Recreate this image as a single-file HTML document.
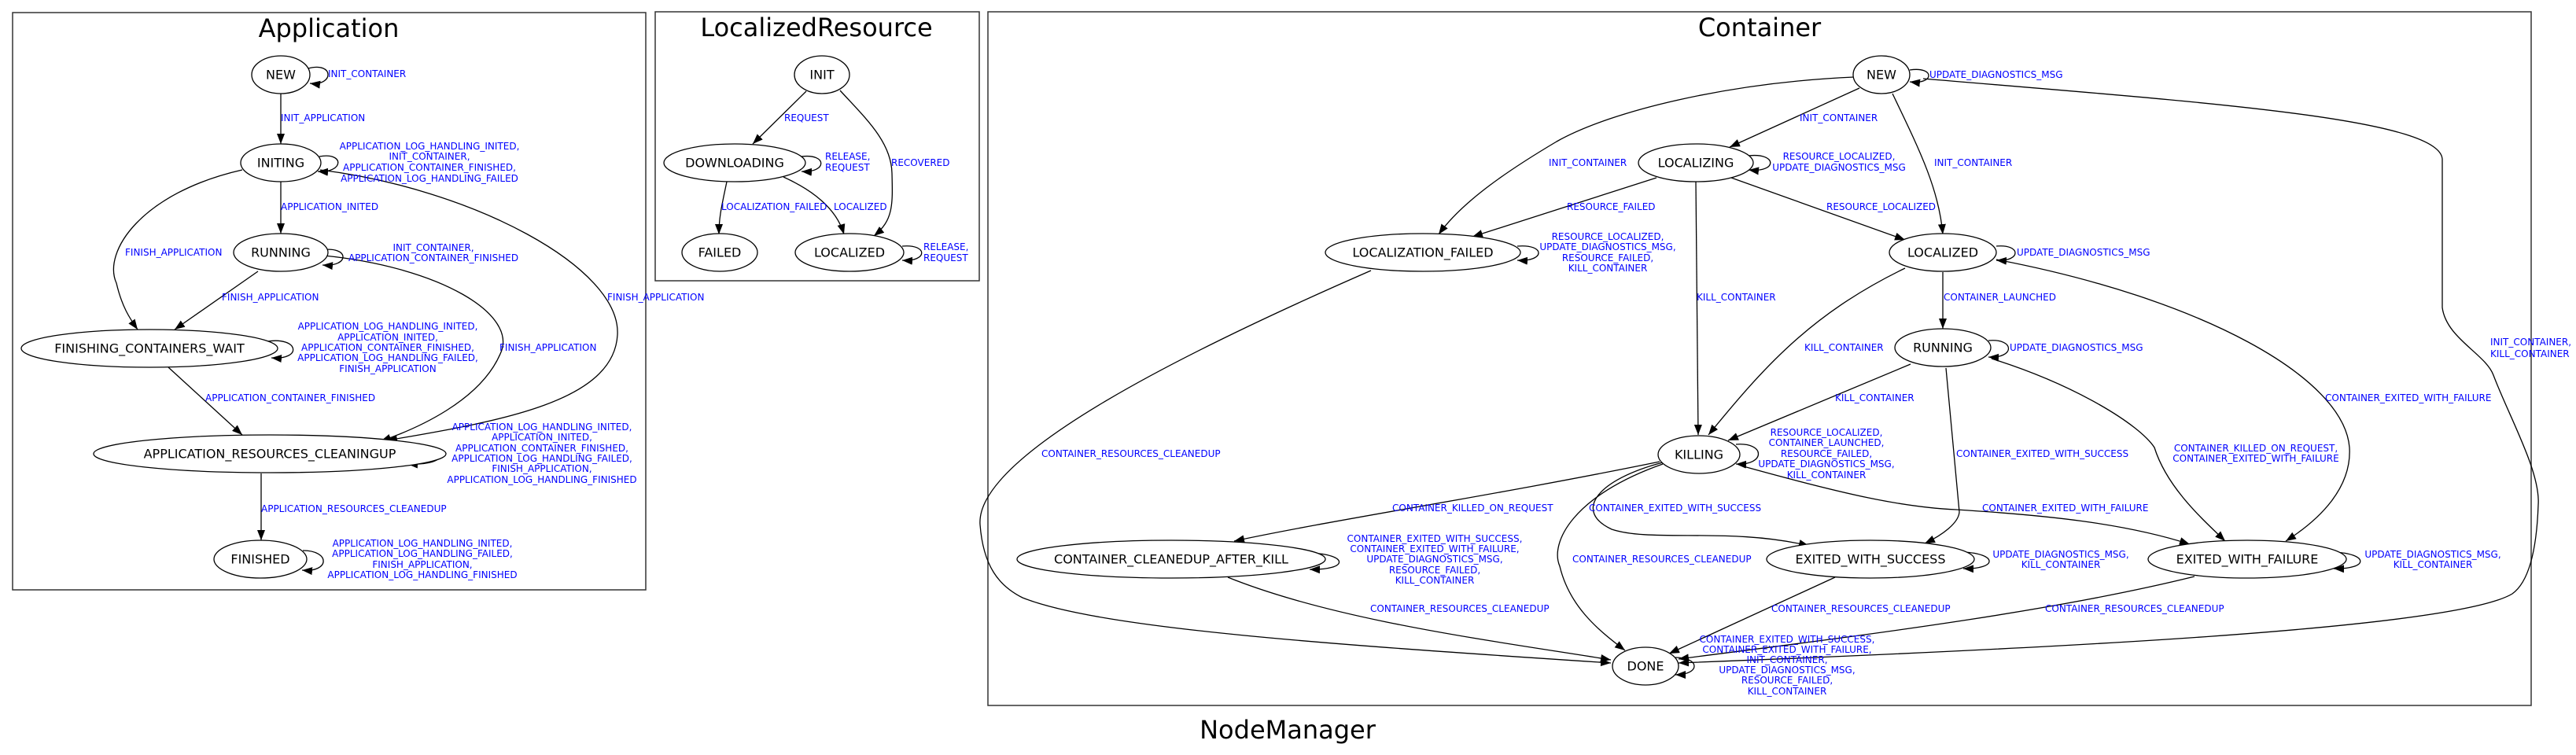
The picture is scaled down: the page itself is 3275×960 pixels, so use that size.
<!DOCTYPE html>
<html><head><meta charset="utf-8"><style>
html,body{margin:0;padding:0;background:#fff;}
svg{display:block;}
.n{font-family:"DejaVu Sans","Liberation Sans",sans-serif;font-size:16px;fill:#000;text-anchor:middle;dominant-baseline:central;}
.t{font-family:"DejaVu Sans","Liberation Sans",sans-serif;font-size:32px;fill:#000;text-anchor:middle;dominant-baseline:central;}
.l{font-family:"DejaVu Sans","Liberation Sans",sans-serif;font-size:12px;fill:#0000ff;dominant-baseline:central;}
.c{text-anchor:middle;}
ellipse{fill:#fff;stroke:#000;stroke-width:1.3;}
path.e{fill:none;stroke:#000;stroke-width:1.3;marker-end:url(#a);}
rect{fill:none;stroke:#333;stroke-width:1.5;}
</style></head><body>
<svg width="3275" height="960" viewBox="0 0 3275 960" xmlns="http://www.w3.org/2000/svg">
<defs><marker id="a" markerUnits="userSpaceOnUse" markerWidth="14" markerHeight="12" refX="13" refY="5" orient="auto"><path d="M0,0 L13,5 L0,10 z" fill="#000"/></marker></defs>

<!-- Application -->
<rect x="16" y="16" width="805" height="734"/>
<text class="t" x="418" y="36">Application</text>
<path class="e" d="M392,87 C425,78 425,110 394,106"/>
<path class="e" d="M357,119 L357,183"/>
<path class="e" d="M406,199 C438,193 438,220 404,218"/>
<path class="e" d="M357,231 L357,297"/>
<path class="e" d="M308,216 C180,245 130,320 148,360 C155,390 165,405 175,419"/>
<path class="e" d="M328,345 L222,419"/>
<path class="e" d="M412,325 C560,340 660,400 636,450 C610,510 530,545 484,561"/>
<path class="e" d="M407,216 C600,240 790,340 785,426 C780,510 640,535 492,560"/>
<path class="e" d="M408,318 C445,312 445,340 410,337"/>
<path class="e" d="M340,434 C380,428 385,458 345,455"/>
<path class="e" d="M214,467 L308,553"/>
<path class="e" d="M514,566 C570,568 575,592 518,590"/>
<path class="e" d="M332,602 L332,687"/>
<path class="e" d="M385,700 C420,700 420,728 384,725"/>
<ellipse cx="357" cy="95" rx="37" ry="24"/><text class="n" x="357" y="95">NEW</text>
<ellipse cx="357" cy="207" rx="51" ry="24"/><text class="n" x="357" y="207">INITING</text>
<ellipse cx="357" cy="321" rx="60" ry="24"/><text class="n" x="357" y="321">RUNNING</text>
<ellipse cx="190" cy="443" rx="163" ry="24"/><text class="n" x="190" y="443">FINISHING_CONTAINERS_WAIT</text>
<ellipse cx="343" cy="577" rx="224" ry="24"/><text class="n" x="343" y="577">APPLICATION_RESOURCES_CLEANINGUP</text>
<ellipse cx="331" cy="711" rx="59" ry="24"/><text class="n" x="331" y="711">FINISHED</text>
<text class="l" x="417" y="94">INIT_CONTAINER</text>
<text class="l" x="357" y="150">INIT_APPLICATION</text>
<text class="l c" x="546" y="186">APPLICATION_LOG_HANDLING_INITED,</text>
<text class="l c" x="546" y="199">INIT_CONTAINER,</text>
<text class="l c" x="546" y="213">APPLICATION_CONTAINER_FINISHED,</text>
<text class="l c" x="546" y="227">APPLICATION_LOG_HANDLING_FAILED</text>
<text class="l" x="357" y="263">APPLICATION_INITED</text>
<text class="l" x="159" y="321">FINISH_APPLICATION</text>
<text class="l c" x="551" y="315">INIT_CONTAINER,</text>
<text class="l c" x="551" y="328">APPLICATION_CONTAINER_FINISHED</text>
<text class="l" x="282" y="378">FINISH_APPLICATION</text>
<text class="l" x="635" y="442">FINISH_APPLICATION</text>
<text class="l" x="772" y="378">FINISH_APPLICATION</text>
<text class="l c" x="493" y="415">APPLICATION_LOG_HANDLING_INITED,</text>
<text class="l c" x="493" y="429">APPLICATION_INITED,</text>
<text class="l c" x="493" y="442">APPLICATION_CONTAINER_FINISHED,</text>
<text class="l c" x="493" y="455">APPLICATION_LOG_HANDLING_FAILED,</text>
<text class="l c" x="493" y="469">FINISH_APPLICATION</text>
<text class="l" x="261" y="506">APPLICATION_CONTAINER_FINISHED</text>
<text class="l c" x="689" y="543">APPLICATION_LOG_HANDLING_INITED,</text>
<text class="l c" x="689" y="556">APPLICATION_INITED,</text>
<text class="l c" x="689" y="570">APPLICATION_CONTAINER_FINISHED,</text>
<text class="l c" x="689" y="583">APPLICATION_LOG_HANDLING_FAILED,</text>
<text class="l c" x="689" y="596">FINISH_APPLICATION,</text>
<text class="l c" x="689" y="610">APPLICATION_LOG_HANDLING_FINISHED</text>
<text class="l" x="332" y="647">APPLICATION_RESOURCES_CLEANEDUP</text>
<text class="l c" x="537" y="691">APPLICATION_LOG_HANDLING_INITED,</text>
<text class="l c" x="537" y="704">APPLICATION_LOG_HANDLING_FAILED,</text>
<text class="l c" x="537" y="718">FINISH_APPLICATION,</text>
<text class="l c" x="537" y="731">APPLICATION_LOG_HANDLING_FINISHED</text>

<!-- LocalizedResource -->
<rect x="833" y="15" width="412" height="342"/>
<text class="t" x="1038" y="35">LocalizedResource</text>
<path class="e" d="M1025,116 L957,183"/>
<path class="e" d="M1068,115 C1100,150 1133,180 1134,220 C1135,260 1136,280 1111,300"/>
<path class="e" d="M1019,199 C1052,195 1052,220 1019,218"/>
<path class="e" d="M924,231 C918,260 914,275 914,298"/>
<path class="e" d="M996,225 C1040,245 1065,270 1073,298"/>
<path class="e" d="M1147,313 C1180,310 1180,333 1147,331"/>
<ellipse cx="1045" cy="95" rx="35" ry="24"/><text class="n" x="1045" y="95">INIT</text>
<ellipse cx="934" cy="207" rx="90" ry="24"/><text class="n" x="934" y="207">DOWNLOADING</text>
<ellipse cx="915" cy="321" rx="48" ry="24"/><text class="n" x="915" y="321">FAILED</text>
<ellipse cx="1080" cy="321" rx="69" ry="24"/><text class="n" x="1080" y="321">LOCALIZED</text>
<text class="l" x="997" y="150">REQUEST</text>
<text class="l" x="1133" y="207">RECOVERED</text>
<text class="l" x="1049" y="199">RELEASE,</text>
<text class="l" x="1049" y="213">REQUEST</text>
<text class="l" x="917" y="263">LOCALIZATION_FAILED</text>
<text class="l" x="1060" y="263">LOCALIZED</text>
<text class="l" x="1174" y="314">RELEASE,</text>
<text class="l" x="1174" y="328">REQUEST</text>

<!-- Container -->
<rect x="1256" y="15" width="1962" height="882"/>
<text class="t" x="2237" y="35">Container</text>
<text class="t" x="1637" y="928">NodeManager</text>
<path class="e" d="M2428,89 C2460,84 2460,108 2428,104"/>
<path class="e" d="M2364,112 L2199,187"/>
<path class="e" d="M2406,119 C2440,190 2465,240 2470,298"/>
<path class="e" d="M2357,98 C2200,105 2050,140 1979,180 C1920,215 1860,255 1829,298"/>
<path class="e" d="M2445,100 C2800,130 3100,150 3105,202 L3105,391 C3110,430 3160,450 3170,477 C3190,530 3230,600 3227,642 C3225,700 3215,740 3194,755 C3120,800 2600,825 2134,843"/>
<path class="e" d="M2223,198 C2260,194 2260,220 2223,216"/>
<path class="e" d="M2106,226 L1872,301"/>
<path class="e" d="M2201,226 L2422,305"/>
<path class="e" d="M2156,231 L2159,553"/>
<path class="e" d="M1929,313 C1965,310 1965,333 1929,331"/>
<path class="e" d="M1743,344 C1500,450 1240,580 1246,667 C1250,720 1270,745 1300,760 C1400,800 1700,820 2048,843"/>
<path class="e" d="M2538,313 C2570,310 2570,333 2538,331"/>
<path class="e" d="M2470,346 L2470,418"/>
<path class="e" d="M2422,341 C2300,400 2240,470 2172,553"/>
<path class="e" d="M2538,330 C2800,380 2980,480 2987,569 C2990,620 2950,660 2906,688"/>
<path class="e" d="M2528,433 C2562,430 2562,456 2528,454"/>
<path class="e" d="M2429,463 L2197,560"/>
<path class="e" d="M2474,468 L2491,651 C2490,665 2470,680 2447,691"/>
<path class="e" d="M2532,456 C2640,490 2720,540 2739,569 C2755,620 2800,660 2829,688"/>
<path class="e" d="M2207,565 C2245,562 2245,592 2207,590"/>
<path class="e" d="M2213,592 C2350,630 2420,645 2487,648 C2600,655 2700,665 2784,692"/>
<path class="e" d="M2110,587 C1900,630 1700,660 1569,688"/>
<path class="e" d="M2114,588 C2030,610 2000,650 2049,673 C2100,690 2200,670 2300,694"/>
<path class="e" d="M2114,590 C2000,630 1970,690 1983,720 C1995,770 2030,800 2066,827"/>
<path class="e" d="M1665,703 C1715,705 1715,725 1665,724"/>
<path class="e" d="M1561,734 C1700,790 1900,815 2048,839"/>
<path class="e" d="M2496,702 C2540,704 2540,724 2496,723"/>
<path class="e" d="M2333,734 L2122,831"/>
<path class="e" d="M2967,702 C3012,704 3012,724 2967,723"/>
<path class="e" d="M2790,733 C2600,780 2350,810 2134,838"/>
<path class="e" d="M2130,836 C2162,836 2162,858 2130,858"/>
<ellipse cx="2392" cy="95" rx="36" ry="24"/><text class="n" x="2392" y="95">NEW</text>
<ellipse cx="2156" cy="207" rx="73" ry="24"/><text class="n" x="2156" y="207">LOCALIZING</text>
<ellipse cx="1809" cy="321" rx="124" ry="24"/><text class="n" x="1809" y="321">LOCALIZATION_FAILED</text>
<ellipse cx="2470" cy="321" rx="68" ry="24"/><text class="n" x="2470" y="321">LOCALIZED</text>
<ellipse cx="2470" cy="442" rx="61" ry="24"/><text class="n" x="2470" y="442">RUNNING</text>
<ellipse cx="2160" cy="578" rx="52" ry="24"/><text class="n" x="2160" y="578">KILLING</text>
<ellipse cx="1489" cy="711" rx="196" ry="24"/><text class="n" x="1489" y="711">CONTAINER_CLEANEDUP_AFTER_KILL</text>
<ellipse cx="2378" cy="711" rx="132" ry="24"/><text class="n" x="2378" y="711">EXITED_WITH_SUCCESS</text>
<ellipse cx="2857" cy="711" rx="126" ry="24"/><text class="n" x="2857" y="711">EXITED_WITH_FAILURE</text>
<ellipse cx="2092" cy="847" rx="42" ry="24"/><text class="n" x="2092" y="847">DONE</text>
<text class="l" x="2453" y="95">UPDATE_DIAGNOSTICS_MSG</text>
<text class="l" x="2288" y="150">INIT_CONTAINER</text>
<text class="l" x="2459" y="207">INIT_CONTAINER</text>
<text class="l" x="1969" y="207">INIT_CONTAINER</text>
<text class="l" x="3166" y="435">INIT_CONTAINER,</text>
<text class="l" x="3166" y="450">KILL_CONTAINER</text>
<text class="l c" x="2338" y="199">RESOURCE_LOCALIZED,</text>
<text class="l c" x="2338" y="213">UPDATE_DIAGNOSTICS_MSG</text>
<text class="l" x="1992" y="263">RESOURCE_FAILED</text>
<text class="l" x="2322" y="263">RESOURCE_LOCALIZED</text>
<text class="l" x="2157" y="378">KILL_CONTAINER</text>
<text class="l c" x="2044" y="301">RESOURCE_LOCALIZED,</text>
<text class="l c" x="2044" y="314">UPDATE_DIAGNOSTICS_MSG,</text>
<text class="l c" x="2044" y="328">RESOURCE_FAILED,</text>
<text class="l c" x="2044" y="341">KILL_CONTAINER</text>
<text class="l" x="1324" y="577">CONTAINER_RESOURCES_CLEANEDUP</text>
<text class="l" x="2564" y="321">UPDATE_DIAGNOSTICS_MSG</text>
<text class="l" x="2471" y="378">CONTAINER_LAUNCHED</text>
<text class="l" x="2294" y="442">KILL_CONTAINER</text>
<text class="l" x="2956" y="506">CONTAINER_EXITED_WITH_FAILURE</text>
<text class="l" x="2555" y="442">UPDATE_DIAGNOSTICS_MSG</text>
<text class="l" x="2333" y="506">KILL_CONTAINER</text>
<text class="l" x="2487" y="577">CONTAINER_EXITED_WITH_SUCCESS</text>
<text class="l c" x="2868" y="570">CONTAINER_KILLED_ON_REQUEST,</text>
<text class="l c" x="2868" y="583">CONTAINER_EXITED_WITH_FAILURE</text>
<text class="l c" x="2322" y="550">RESOURCE_LOCALIZED,</text>
<text class="l c" x="2322" y="563">CONTAINER_LAUNCHED,</text>
<text class="l c" x="2322" y="577">RESOURCE_FAILED,</text>
<text class="l c" x="2322" y="590">UPDATE_DIAGNOSTICS_MSG,</text>
<text class="l c" x="2322" y="604">KILL_CONTAINER</text>
<text class="l" x="2520" y="646">CONTAINER_EXITED_WITH_FAILURE</text>
<text class="l" x="1770" y="646">CONTAINER_KILLED_ON_REQUEST</text>
<text class="l" x="2020" y="646">CONTAINER_EXITED_WITH_SUCCESS</text>
<text class="l" x="1999" y="711">CONTAINER_RESOURCES_CLEANEDUP</text>
<text class="l c" x="1824" y="685">CONTAINER_EXITED_WITH_SUCCESS,</text>
<text class="l c" x="1824" y="698">CONTAINER_EXITED_WITH_FAILURE,</text>
<text class="l c" x="1824" y="711">UPDATE_DIAGNOSTICS_MSG,</text>
<text class="l c" x="1824" y="725">RESOURCE_FAILED,</text>
<text class="l c" x="1824" y="738">KILL_CONTAINER</text>
<text class="l" x="1742" y="774">CONTAINER_RESOURCES_CLEANEDUP</text>
<text class="l c" x="2620" y="705">UPDATE_DIAGNOSTICS_MSG,</text>
<text class="l c" x="2620" y="718">KILL_CONTAINER</text>
<text class="l" x="2252" y="774">CONTAINER_RESOURCES_CLEANEDUP</text>
<text class="l c" x="3093" y="705">UPDATE_DIAGNOSTICS_MSG,</text>
<text class="l c" x="3093" y="718">KILL_CONTAINER</text>
<text class="l" x="2600" y="774">CONTAINER_RESOURCES_CLEANEDUP</text>
<text class="l c" x="2272" y="813">CONTAINER_EXITED_WITH_SUCCESS,</text>
<text class="l c" x="2272" y="826">CONTAINER_EXITED_WITH_FAILURE,</text>
<text class="l c" x="2272" y="839">INIT_CONTAINER,</text>
<text class="l c" x="2272" y="852">UPDATE_DIAGNOSTICS_MSG,</text>
<text class="l c" x="2272" y="865">RESOURCE_FAILED,</text>
<text class="l c" x="2272" y="879">KILL_CONTAINER</text>
</svg>
</body></html>
